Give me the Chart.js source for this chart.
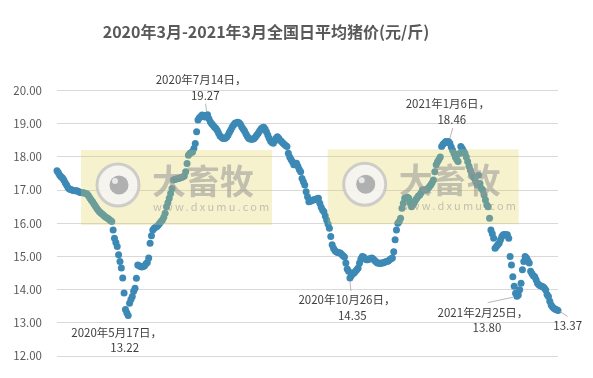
<!DOCTYPE html>
<html>
<head>
<meta charset="utf-8">
<script src="https://cdn.jsdelivr.net/npm/chart.js@4"></script>
<style>
  html, body { margin: 0; padding: 0; background: #fff; }
  #wrap { width: 593px; height: 378px; }
</style>
</head>
<body>
<div id="wrap"><canvas id="pigChart"></canvas></div>
<script>
// 2020-03-26 .. 2021-03-27, one value per day (元/斤)
const prices = [
  17.58, 17.52, 17.45, 17.40, 17.36, 17.30, 17.22, 17.15, 17.08, 17.03,
  17.02, 17.00, 16.99, 16.98, 16.98, 16.97, 16.95, 16.93, 16.92, 16.92,
  16.91, 16.90, 16.88, 16.83, 16.76, 16.70, 16.65, 16.58, 16.52, 16.45,
  16.40, 16.35, 16.31, 16.28, 16.24, 16.20, 16.17, 16.15, 16.12, 16.08,
  16.05, 15.80, 15.55, 15.42, 15.30, 15.05, 14.85, 14.65, 14.35, 13.90,
  13.40, 13.30, 13.22, 13.59, 13.70, 13.79, 13.95, 14.04, 14.34, 14.74,
  14.72, 14.70, 14.68, 14.70, 14.72, 14.78, 14.82, 14.95, 15.40, 15.62,
  15.80, 15.85, 15.88, 15.90, 15.95, 16.00, 16.05, 16.10, 16.18, 16.30,
  16.50, 16.62, 16.75, 16.90, 17.05, 17.30, 17.32, 17.33, 17.34, 17.35,
  17.37, 17.38, 17.40, 17.42, 17.55, 17.80, 18.05, 18.10, 18.13, 18.15,
  18.25, 18.40, 18.76, 19.11, 19.18, 19.22, 19.26, 19.25, 19.20, 19.24,
  19.27, 19.15, 19.06, 19.00, 18.95, 18.90, 18.86, 18.80, 18.72, 18.64,
  18.60, 18.56, 18.55, 18.56, 18.60, 18.66, 18.74, 18.82, 18.90, 18.96,
  19.01, 19.03, 19.04, 19.03, 18.98, 18.90, 18.84, 18.78, 18.70, 18.62,
  18.56, 18.54, 18.53, 18.53, 18.55, 18.60, 18.66, 18.71, 18.78, 18.84,
  18.88, 18.89, 18.84, 18.76, 18.66, 18.56, 18.48, 18.43, 18.41, 18.48,
  18.56, 18.61, 18.56, 18.50, 18.46, 18.42, 18.38, 18.34, 18.31, 18.11,
  18.00, 17.92, 17.85, 17.76, 17.78, 17.81, 17.72, 17.62, 17.55, 17.35,
  17.25, 17.15, 16.95, 16.80, 16.65, 16.66, 16.68, 16.70, 16.71, 16.72,
  16.74, 16.75, 16.60, 16.48, 16.40, 16.35, 16.22, 16.10, 15.98, 15.85,
  15.60, 15.35, 15.25, 15.18, 15.14, 15.12, 15.11, 15.10, 15.06, 15.02,
  14.98, 14.80, 14.62, 14.55, 14.35, 14.42, 14.48, 14.50, 14.55, 14.60,
  14.65, 14.80, 14.92, 15.00, 14.98, 14.94, 14.90, 14.90, 14.92, 14.94,
  14.95, 14.92, 14.88, 14.84, 14.80, 14.80, 14.79, 14.80, 14.80, 14.82,
  14.84, 14.85, 14.86, 14.90, 14.93, 14.95, 15.14, 15.50, 15.80, 16.00,
  16.05, 16.15, 16.45, 16.60, 16.75, 16.76, 16.78, 16.75, 16.62, 16.50,
  16.55, 16.62, 16.70, 16.76, 16.82, 16.85, 16.92, 17.00, 17.00, 17.01,
  17.00, 17.05, 17.10, 17.15, 17.22, 17.30, 17.55, 17.76, 17.85, 17.92,
  18.00, 18.31, 18.38, 18.42, 18.46, 18.45, 18.46, 18.41, 18.30, 18.20,
  18.11, 18.00, 17.92, 17.86, 18.10, 18.31, 18.25, 18.18, 18.11, 18.00,
  17.86, 17.72, 17.60, 17.48, 17.40, 17.35, 17.25, 17.15, 17.45, 17.20,
  17.05, 17.00, 16.85, 16.70, 16.55, 16.50, 16.15, 15.80, 15.68, 15.55,
  15.25, 15.30, 15.35, 15.40, 15.50, 15.60, 15.65, 15.66, 15.65, 15.65,
  15.55, 15.00, 14.74, 14.39, 14.10, 13.89, 13.80, 13.84, 14.00, 14.19,
  14.60, 14.85, 15.00, 14.95, 14.88, 14.80, 14.55, 14.48, 14.42, 14.39,
  14.30, 14.19, 14.15, 14.12, 14.10, 14.09, 14.05, 13.99, 13.85, 13.79,
  13.65, 13.54, 13.48, 13.44, 13.41, 13.39, 13.37
];

const yTicks = [12, 13, 14, 15, 16, 17, 18, 19, 20];

// callouts: day index + date text; the number comes from prices[]
const calloutIndex = [52, 110, 214, 286, 336, 366];
const calloutDate = ['2020年5月17日，', '2020年7月14日，', '2020年10月26日，', '2021年1月6日，', '2021年2月25日，', ''];

const titleText = '2020年3月-2021年3月全国日平均猪价(元/斤)';
const FONT = '"Noto Sans CJK SC", "Noto Sans", sans-serif';

// label placement relative to the point: [line1 dx, dy, line2 dx, dy, leader x1, y1, x2, y2]
const calloutPos = [
  [-11.5, 17.5, -3.5, 32.5, null],
  [-6.5, -34.7, -2.3, -18.7, [-2, -11, -1, -3]],
  [-3, 22, 2.4, 38, [0, 3, 1, 13]],
  [-0.7, -37.6, 3.3, -21.6, [4.3, -13.6, 1.3, -3]],
  [-34, 16.7, -30, 31.7, [-29.3, 6.4, -4, 1]],
  [0, 0, 9.7, 15.5, [2, 1, 9.7, 6]]
];

const points = prices.map((v, i) => ({ x: i, y: v }));

const titlePlugin = {
  id: 'titleText',
  afterDraw(chart) {
    const ctx = chart.ctx;
    ctx.save();
    ctx.font = 'bold 16px ' + FONT;
    ctx.fillStyle = '#595959';
    ctx.textAlign = 'center';
    ctx.textBaseline = 'middle';
    ctx.fillText(titleText, 266, 32);
    ctx.restore();
  }
};

const watermarkPlugin = {
  id: 'watermark',
  afterDatasetsDraw(chart) {
    const ctx = chart.ctx;
    const boxes = [[81, 150], [327.7, 149.3]];
    ctx.save();
    boxes.forEach(([bx, by]) => {
      ctx.fillStyle = 'rgba(225,210,80,0.28)';
      ctx.fillRect(bx, by, 191, 75);
      // logo
      const cx = bx + 37, cy = by + 35;
      ctx.beginPath();
      ctx.arc(cx, cy, 21, 0, Math.PI * 2);
      ctx.fillStyle = 'rgba(245,245,245,0.85)';
      ctx.fill();
      ctx.lineWidth = 3;
      ctx.strokeStyle = 'rgba(195,195,195,0.8)';
      ctx.stroke();
      ctx.beginPath();
      ctx.arc(cx + 1, cy, 9.5, 0, Math.PI * 2);
      ctx.fillStyle = 'rgba(170,170,170,0.9)';
      ctx.fill();
      ctx.beginPath();
      ctx.arc(cx - 3, cy - 4, 3, 0, Math.PI * 2);
      ctx.fillStyle = 'rgba(235,235,235,0.95)';
      ctx.fill();
      // text
      ctx.fillStyle = 'rgba(150,150,150,0.55)';
      ctx.textAlign = 'left';
      ctx.textBaseline = 'middle';
      ctx.font = 'bold 34px ' + FONT;
      ctx.fillText('大畜牧', bx + 71, by + 31);
      ctx.font = '11px ' + FONT;
      ctx.letterSpacing = '2.2px';
      ctx.fillText('www.dxumu.com', bx + 72, by + 57);
      ctx.letterSpacing = '0px';
    });
    ctx.restore();
  }
};

const calloutPlugin = {
  id: 'callouts',
  afterDraw(chart) {
    const ctx = chart.ctx;
    const xs = chart.scales.x, ys = chart.scales.y;
    ctx.save();
    ctx.font = '11.5px ' + FONT;
    ctx.fillStyle = '#404040';
    ctx.textAlign = 'center';
    ctx.textBaseline = 'middle';
    calloutIndex.forEach((idx, k) => {
      const px = xs.getPixelForValue(idx);
      const py = ys.getPixelForValue(prices[idx]);
      const p = calloutPos[k];
      if (p[4]) {
        const l = p[4];
        ctx.beginPath();
        ctx.moveTo(px + l[0], py + l[1]);
        ctx.lineTo(px + l[2], py + l[3]);
        ctx.strokeStyle = '#a6a6a6';
        ctx.lineWidth = 0.8;
        ctx.stroke();
      }
      if (calloutDate[k]) ctx.fillText(calloutDate[k], px + p[0], py + p[1]);
      ctx.fillText(prices[idx].toFixed(2), px + p[2], py + p[3]);
    });
    ctx.restore();
  }
};

new Chart(document.getElementById('pigChart'), {
  type: 'scatter',
  data: {
    datasets: [{
      data: points,
      backgroundColor: 'rgb(61,137,182)',
      borderWidth: 0,
      pointRadius: 3.5,
      pointHoverRadius: 3.5,
      clip: false
    }]
  },
  options: {
    responsive: true,
    maintainAspectRatio: false,
    animation: false,
    events: [],
    layout: { autoPadding: false, padding: { top: 90.5, bottom: 22, left: 0, right: 35 } },
    plugins: { legend: { display: false }, tooltip: { enabled: false }, title: { display: false } },
    scales: {
      x: { type: 'linear', min: 0, max: prices.length - 1, display: false },
      y: {
        min: yTicks[0],
        max: yTicks[yTicks.length - 1],
        afterFit(scale) { scale.width = 57; },
        afterBuildTicks(scale) { scale.ticks = yTicks.map(v => ({ value: v })); },
        border: { display: false },
        grid: { color: '#d9d9d9', lineWidth: 1, drawTicks: false },
        ticks: {
          padding: 15,
          color: '#595959',
          font: { family: FONT, size: 11.5 },
          callback: v => Number(v).toFixed(2)
        }
      }
    }
  },
  plugins: [titlePlugin, watermarkPlugin, calloutPlugin]
});
</script>
</body>
</html>
